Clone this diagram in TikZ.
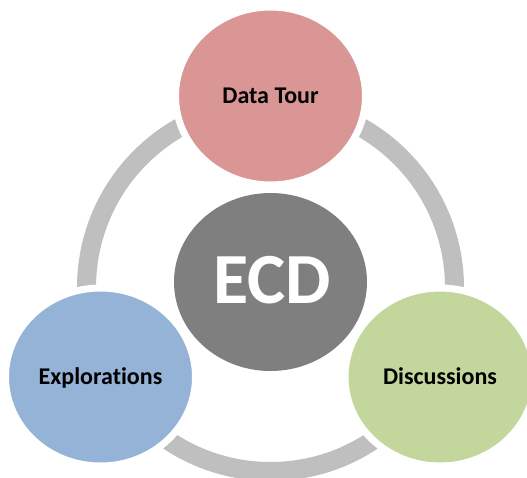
\documentclass[tikz,border=0pt]{standalone}
\usepackage{fontspec}
\setmainfont[Ligatures=NoCommon]{Carlito}
\usetikzlibrary{shapes.geometric}
\tikzset{
  x=1pt,y=-1pt,
  blob/.style={ellipse,inner sep=0pt,draw=white,line width=7pt,text height=14pt,text depth=0pt,font=\bfseries\fontsize{24}{28}\selectfont,text=black},
  ringarc/.style={draw=ringgray,line width=19pt},
}
\definecolor{ringgray}{HTML}{BFBFBF}
\definecolor{rosefill}{HTML}{D99694}
\definecolor{bluefill}{HTML}{95B3D7}
\definecolor{greenfill}{HTML}{C3D69B}
\definecolor{coregray}{HTML}{7F7F7F}
\begin{document}
\begin{tikzpicture}
\useasboundingbox (0,0) rectangle (527,477);
\clip (0,0) rectangle (527,477);
\coordinate (hub) at (270.5,287.5);
% ring arcs, ends hidden under the white halos of the circles
\draw[ringarc] (hub) ++(100:184pt) arc[start angle=100,end angle=200,radius=184pt];
\draw[ringarc] (hub) ++(80:184pt) arc[start angle=80,end angle=-20,radius=184pt];
\draw[ringarc] (hub) ++(230:184pt) arc[start angle=230,end angle=310,radius=184pt];
\node[blob,fill=rosefill,minimum width=190pt,minimum height=178pt] (tour) at (270.5,96) {Data Tour};
\node[blob,fill=bluefill,minimum width=190pt,minimum height=178pt] (expl) at (100.5,377) {Explorations};
\node[blob,fill=greenfill,minimum width=190pt,minimum height=178pt] (disc) at (440,377) {Discussions};
\node[ellipse,inner sep=0pt,fill=coregray,text=white,text height=42pt,text depth=0pt,minimum width=193pt,minimum height=178pt,font=\bfseries\fontsize{72}{78}\selectfont] (ecd) at (270.5,282) {\hspace*{3pt}ECD};
\end{tikzpicture}
\end{document}
